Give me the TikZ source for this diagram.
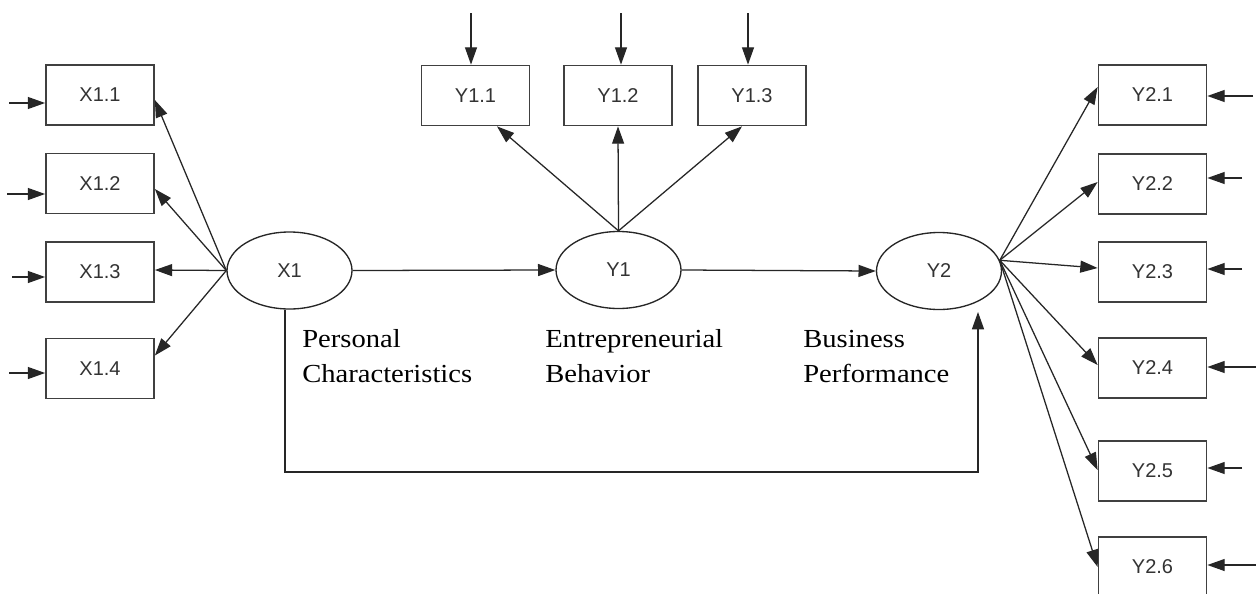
\documentclass[tikz,border=0pt]{standalone}
\usepackage{fontspec}
\setmainfont{Liberation Serif}
\newfontfamily\boxfont{Liberation Sans}
\newfontfamily\labfont[FakeStretch=1.1]{Liberation Serif}
\usetikzlibrary{arrows.meta,shapes.geometric,calc}
\tikzset{
  ind/.style={draw=black!75, line width=1.3pt, minimum width=81pt, minimum height=45pt,
    inner sep=0pt, font=\boxfont\fontsize{15pt}{18pt}\selectfont, text=black!80},
  lat/.style={draw=black!85, line width=1pt, ellipse, minimum width=93.75pt, minimum height=57.75pt,
    inner sep=0pt, font=\boxfont\fontsize{15pt}{18pt}\selectfont, text=black!80},
  arr/.style={draw=black!85, line width=0.95pt, -{Triangle[length=13pt,width=9pt]}},
  lab/.style={anchor=base west, inner sep=0pt, align=left,
    font=\labfont\fontsize{19.5pt}{26.25pt}\selectfont}
}
\begin{document}
\begin{tikzpicture}[x=0.75pt,y=-0.75pt]
\useasboundingbox (0,0) rectangle (1256,593);
\fill[white] (0,0) rectangle (1256,593);
% latent variables
\node[lat] (X1) at (289.5,270.5) {X1};
\node[lat] (Y1) at (618.5,270) {Y1};
\node[lat] (Y2) at (939,271) {Y2};
% left indicators
\node[ind] (X11) at (100,95) {X1.1};
\node[ind] (X12) at (100,183.5) {X1.2};
\node[ind] (X13) at (100,272) {X1.3};
\node[ind] (X14) at (100,368.5) {X1.4};
% top indicators
\node[ind] (Y11) at (475.5,95.5) {Y1.1};
\node[ind] (Y12) at (618,95.5) {Y1.2};
\node[ind] (Y13) at (752,95.5) {Y1.3};
% right indicators
\node[ind] (Y21) at (1152.5,95) {Y2.1};
\node[ind] (Y22) at (1152.5,184) {Y2.2};
\node[ind] (Y23) at (1152.5,272) {Y2.3};
\node[ind] (Y24) at (1152.5,368) {Y2.4};
\node[ind] (Y25) at (1152.5,471) {Y2.5};
\node[ind] (Y26) at (1152.5,567) {Y2.6};
% labels (base anchor = baseline of last line)
\node[lab] (L1) at (302,382) {Personal\\Characteristics};
\node[lab] (L2) at (545,382) {Entrepreneurial\\Behavior};
\node[lab] (L3) at (803,382) {Business\\Performance};
% error inputs (left)
\coordinate (ex11) at (9,103);
\coordinate (ex12) at (7,194);
\coordinate (ex13) at (12,277);
\coordinate (ex14) at (9,373);
\foreach \e/\b in {ex11/X11,ex12/X12,ex13/X13,ex14/X14}
  \draw[arr] (\e) -- (\e -| \b.west);
% error inputs (top)
\coordinate (ey11) at (471,13);
\coordinate (ey12) at (621,13);
\coordinate (ey13) at (748,13);
\foreach \e/\b in {ey11/Y11,ey12/Y12,ey13/Y13}
  \draw[arr] (\e) -- (\e |- \b.north);
% error inputs (right)
\coordinate (ez21) at (1253,96);
\coordinate (ez22) at (1242,178);
\coordinate (ez23) at (1242,269);
\coordinate (ez24) at (1256,367);
\coordinate (ez25) at (1242,468);
\coordinate (ez26) at (1256,565);
\foreach \e/\b in {ez21/Y21,ez22/Y22,ez23/Y23,ez24/Y24,ez25/Y25,ez26/Y26}
  \draw[arr] (\e) -- (\e -| \b.east);
% loadings X1
\draw[arr] (X1.west) -- ($(X11.east)+(0,5)$);
\draw[arr] (X1.west) -- ($(X12.east)+(0,5.5)$);
\draw[arr] (X1.west) -- ($(X13.east)+(0,-2)$);
\draw[arr] (X1.west) -- ($(X14.east)+(0,-13)$);
% loadings Y1
\draw[arr] (Y1.north) -- ($(Y11.south)+(21.5,0)$);
\draw[arr] (Y1.north) -- (Y12.south);
\draw[arr] (Y1.north) -- ($(Y13.south)+(-10,0)$);
% loadings Y2
\coordinate (y2o) at (Y2.10);
\draw[arr] (y2o) -- ($(Y21.west)+(0,-8)$);
\draw[arr] (y2o) -- ($(Y22.west)+(0,-2)$);
\draw[arr] (y2o) -- ($(Y23.west)+(0,-4)$);
\draw[arr] (y2o) -- ($(Y24.west)+(0,-3)$);
\draw[arr] (y2o) -- ($(Y25.west)+(0,-1)$);
\draw[arr] (y2o) -- (Y26.west);
% structural paths
\draw[arr] (X1.east) -- (Y1.west);
\draw[arr] (Y1.east) -- (Y2.west);
\coordinate (loopc) at (978,472);
\coordinate (tipY2) at (978,312);
\draw[arr] ($(X1.south)+(-4.5,0)$) |- (loopc) -- (tipY2);
\end{tikzpicture}
\end{document}
